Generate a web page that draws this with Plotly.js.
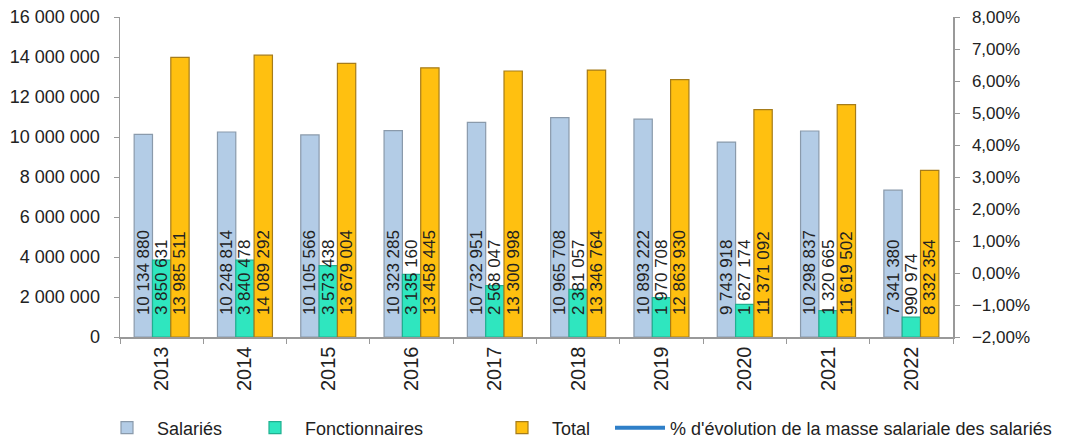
<!DOCTYPE html>
<html>
<head>
<meta charset="utf-8">
<script src="https://cdn.plot.ly/plotly-3.0.1.min.js"></script>
<style>html,body{margin:0;padding:0;background:#fff;}#chart{width:1072px;height:444px;}</style>
</head>
<body>
<div id="chart"></div>
<script>
const years = ['2013','2014','2015','2016','2017','2018','2019','2020','2021','2022'];
const salaries = [10134880, 10248814, 10105566, 10323285, 10732951, 10965708, 10893222, 9743918, 10298837, 7341380];
const fonctionnaires = [3850631, 3840478, 3573438, 3135160, 2568047, 2381057, 1970708, 1627174, 1320665, 990974];
const total = [13985511, 14089292, 13679004, 13458445, 13300998, 13346764, 12863930, 11371092, 11619502, 8332354];
const evolution = [null, null, null, null, null, null, null, null, null, null];
const seriesNames = ['Salariés', 'Fonctionnaires', 'Total', "% d'évolution de la masse salariale des salariés"];

const FONT = "'Liberation Sans', Arial, sans-serif";
const PAD = '\u00a0\u00a0\u00a0\u00a0';

function barTrace(y, name, color, edge, leg) {
  return {
    type: 'bar', x: years, y: y, name: name, legend: leg,
    marker: {color: color, line: {color: edge, width: 1.2}},
    texttemplate: PAD + '%{y:,d}', textposition: 'inside', insidetextanchor: 'start',
    textangle: -90, constraintext: 'none', cliponaxis: false,
    textfont: {family: FONT, size: 17, color: '#222'},
    hoverinfo: 'none'
  };
}

const data = [
  barTrace(salaries, seriesNames[0], '#b3cce6', '#8a9aab', 'legend'),
  barTrace(fonctionnaires, seriesNames[1], '#2fe6bf', '#20b090', 'legend2'),
  barTrace(total, seriesNames[2], '#ffc010', '#a67c1a', 'legend3'),
  {type: 'scatter', mode: 'lines', x: years, y: evolution, yaxis: 'y2', name: seriesNames[3], legend: 'legend4',
   line: {color: '#2f7fc8', width: 4}, connectgaps: false, hoverinfo: 'none'}
];

function leg(px) {
  return {orientation: 'h', xref: 'container', x: px / 1072, xanchor: 'left', yref: 'container', y: 0.036, yanchor: 'middle',
          bgcolor: 'rgba(0,0,0,0)', font: {family: FONT, size: 18, color: '#222'}, itemwidth: 50};
}

const layout = {
  width: 1072, height: 444,
  margin: {l: 120, r: 119, t: 17, b: 107},
  separators: ', ',
  paper_bgcolor: '#fff', plot_bgcolor: '#fff',
  font: {family: FONT, size: 17, color: '#222'},
  barmode: 'group', bargap: 0.34, bargroupgap: 0,
  showlegend: true,
  legend: leg(97), legend2: leg(245), legend3: leg(492), legend4: leg(610),
  xaxis: {type: 'category', showline: true, linecolor: '#999', linewidth: 1.5,
          ticks: 'outside', tickson: 'boundaries', ticklen: 5, tickcolor: '#999',
          tickangle: -90, tickfont: {family: FONT, size: 20, color: '#222'}, showgrid: false},
  yaxis: {range: [0, 16000000], dtick: 2000000, tickformat: ',d', showline: true, linecolor: '#999',
          linewidth: 1.5, ticks: 'outside', ticklen: 5, tickcolor: '#999', showgrid: false, zeroline: false,
          ticklabelstandoff: 10, tickfont: {family: FONT, size: 18, color: '#222'}},
  yaxis2: {overlaying: 'y', side: 'right', range: [-0.02, 0.08], dtick: 0.01, tickformat: '.2%',
           showline: true, linecolor: '#999', linewidth: 1.5, ticks: 'outside', ticklen: 5, tickcolor: '#999',
           ticklabelstandoff: 9, showgrid: false, zeroline: false, tickfont: {family: FONT, size: 17, color: '#222'}}
};

Plotly.newPlot('chart', data, layout, {displayModeBar: false, staticPlot: true});
</script>
</body>
</html>
